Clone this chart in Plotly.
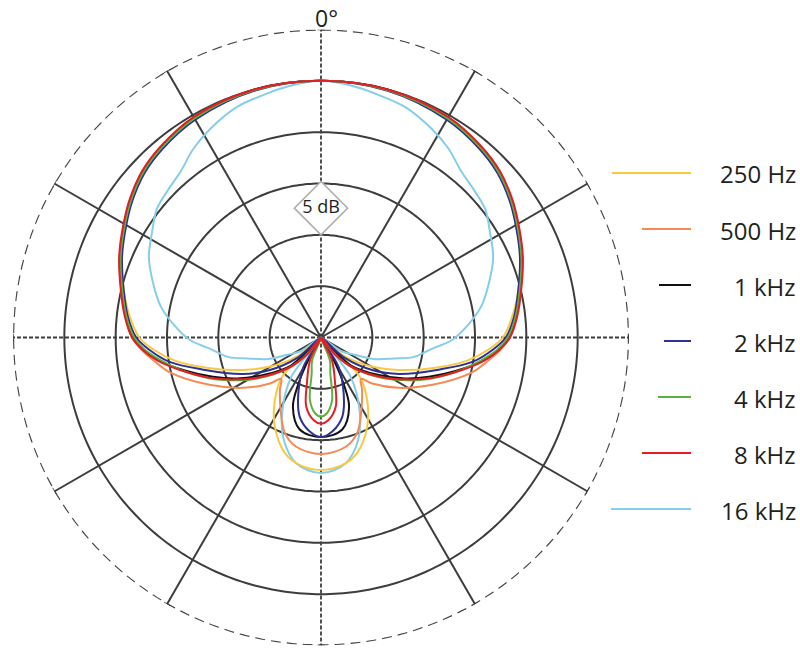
import plotly.graph_objects as go

# ---------------- data (angle in degrees from front, level in dB) ----------------
freq_labels = ["250 Hz", "500 Hz", "1 kHz", "2 kHz", "4 kHz", "8 kHz", "16 kHz"]

theta_250 = [0, 15, 30, 40, 47, 54, 60, 68, 77, 84, 90, 94, 99, 105.5, 112.7, 119.8, 128.3, 131.5, 135.4, 143.7, 152.7, 162.7, 170.6, 180]
db_250 = [0, -0.1, -0.4, -0.9, -1.4, -2.2, -3.0, -4.0, -5.3, -6.3, -7.3, -8.6, -10.6, -13.8, -16.8, -19.3, -22.0, -25, -19.6, -17.4, -15.2, -13.2, -12.4, -12.1]

theta_500 = [0, 15, 30, 40, 47, 54, 60, 68, 77, 84, 90, 94, 98, 103, 113, 123, 132, 136, 142, 151, 159, 167, 180]
db_500 = [0, 0, -0.25, -0.75, -1.25, -2.05, -2.85, -3.85, -5.05, -5.85, -6.6, -7.5, -8.6, -9.9, -13.2, -16.0, -18.3, -19.4, -18.5, -16.9, -15.1, -14.1, -13.65]

theta_1k = [0, 15, 30, 40, 47, 54, 60, 68, 77, 84, 90, 94, 98, 104, 110, 116, 123, 133, 145, 150, 154, 158, 167, 180]
db_1k = [0, 0, -0.3, -0.8, -1.3, -2.1, -2.9, -3.9, -5.1, -5.9, -6.7, -7.7, -9.0, -11.5, -13.8, -15.9, -18.3, -21.0, -25, -22.9, -20.0, -17.7, -15.8, -15.3]

theta_2k = [0, 15, 30, 40, 47, 54, 60, 68, 77, 84, 90, 94, 99, 105, 115, 122.5, 130.6, 140, 149, 158, 165, 173, 180]
db_2k = [0, -0.1, -0.5, -1.0, -1.5, -2.3, -3.1, -4.1, -5.3, -6.1, -7.0, -8.2, -10.0, -13.0, -16.6, -19.1, -21.9, -25, -21.7, -19.1, -17.0, -15.8, -15.3]

theta_4k = [0, 15, 30, 40, 47, 54, 60, 68, 77, 84, 90, 94, 98, 103, 110, 116, 123, 133, 141, 148, 158.8, 165.4, 170, 175.5, 180]
db_4k = [0, -0.05, -0.35, -0.85, -1.35, -2.15, -2.95, -3.95, -5.15, -5.95, -6.8, -7.8, -9.2, -11.0, -13.4, -15.5, -17.7, -20.6, -23.0, -25, -22.6, -21.4, -18.8, -17.6, -17.3]

theta_8k = [0, 15, 30, 40, 47, 54, 60, 68, 77, 84, 90, 94, 98, 103, 110, 116, 123, 133.6, 140, 146, 154, 163, 168, 175, 180]
db_8k = [0, 0, -0.2, -0.7, -1.2, -2.0, -2.8, -3.8, -5.0, -5.8, -6.6, -7.6, -8.9, -10.9, -13.5, -15.7, -17.9, -20.8, -22.8, -25, -22.6, -20.3, -18.1, -16.9, -16.6]

theta_16k = [0, 7, 13, 20, 28, 34, 40, 46, 52, 58, 65, 72, 79, 85, 91, 96, 102, 106, 112, 117, 124, 131, 143, 152, 160, 169, 180]
db_16k = [0, -0.3, -0.7, -1.1, -2.0, -2.8, -3.8, -4.3, -4.7, -5.6, -6.5, -7.8, -9.1, -10.6, -12.2, -14.2, -15.8, -17.6, -19.4, -21.3, -22.6, -25, -20.2, -17.0, -14.4, -12.5, -11.8]

ring_levels = [-20, -15, -10, -5, 0]
outer_level = 5
center_level = -25
spoke_angles = [0, 30, 60, 90, 120, 150, 180, 210, 240, 270, 300, 330]
scale_label = "5 dB"
scale_label_level = -12.4

# ---------------- styling ----------------
colors = {
    "250 Hz": "#F8C940",
    "500 Hz": "#F58A55",
    "1 kHz": "#111111",
    "2 kHz": "#2E3192",
    "4 kHz": "#5DB13F",
    "8 kHz": "#E41E26",
    "16 kHz": "#85CDE9",
}
grid_color = "#3d3d3d"
font_family = "Open Sans, Noto Sans, sans-serif"
text_color = "#231f20"

W, H = 800, 659
cx, cy, R = 321, 337.5, 308


def mirror(th, db):
    full_th = list(th) + [360 - t for t in reversed(th[:-1])]
    full_db = list(db) + list(reversed(db[:-1]))
    return full_th, full_db


fig = go.Figure()

# grid rings
circle_theta = list(range(0, 361, 1))
for lv in ring_levels:
    fig.add_trace(go.Scatterpolar(r=[lv] * len(circle_theta), theta=circle_theta, mode="lines",
                                  line=dict(color=grid_color, width=2), hoverinfo="skip", showlegend=False))
fig.add_trace(go.Scatterpolar(r=[outer_level] * len(circle_theta), theta=circle_theta, mode="lines",
                              line=dict(color="#444444", width=2.4, dash="10px,6px"), hoverinfo="skip",
                              showlegend=False))

# spokes
for a in spoke_angles:
    dashed = a % 90 == 0
    fig.add_trace(go.Scatterpolar(r=[center_level, outer_level], theta=[a, a], mode="lines",
                                  line=dict(color=grid_color, width=1.8 if dashed else 2,
                                            dash="4px,2px" if dashed else "solid"),
                                  hoverinfo="skip", showlegend=False))
    # small end cap
    fig.add_trace(go.Scatterpolar(r=[outer_level, outer_level], theta=[a - 0.7, a + 0.7], mode="lines",
                                  line=dict(color=grid_color, width=1.5), hoverinfo="skip", showlegend=False))

# curves
series = [
    ("16 kHz", theta_16k, db_16k),
    ("250 Hz", theta_250, db_250),
    ("500 Hz", theta_500, db_500),
    ("1 kHz", theta_1k, db_1k),
    ("2 kHz", theta_2k, db_2k),
    ("4 kHz", theta_4k, db_4k),
    ("8 kHz", theta_8k, db_8k),
]
for name, th, db in series:
    ft, fd = mirror(th, db)
    fig.add_trace(go.Scatterpolar(r=fd, theta=ft, mode="lines", name=name,
                                  line=dict(color=colors[name], width=2, shape="spline", smoothing=1.0),
                                  showlegend=False))

# scale label (diamond)
fig.add_trace(go.Scatterpolar(r=[scale_label_level], theta=[0], mode="markers+text", text=[scale_label],
                              textposition="middle center",
                              textfont=dict(family=font_family, size=18, color=text_color),
                              marker=dict(symbol="diamond", size=41, color="white",
                                          line=dict(color="#b0b0b0", width=1.6)),
                              hoverinfo="skip", showlegend=False))

# legend (manual)
legend_y = [173, 229, 285, 341, 397, 453, 509]
legend_x0 = [612, 642, 659, 664, 658, 642, 611]
legend_x1 = 691
shapes = []
annotations = []
for lab, yy, x0 in zip(freq_labels, legend_y, legend_x0):
    shapes.append(dict(type="line", xref="paper", yref="paper", x0=x0 / W, x1=legend_x1 / W,
                       y0=1 - yy / H, y1=1 - yy / H, line=dict(color=colors[lab], width=2)))
    annotations.append(dict(text=lab, xref="paper", yref="paper", x=798 / W, y=1 - (yy + 1) / H,
                            xanchor="right", yanchor="middle", showarrow=False,
                            font=dict(family=font_family, size=24, color=text_color)))

annotations.append(dict(text="0°", xref="paper", yref="paper", x=(cx + 5) / W, y=1.0,
                        xanchor="center", yanchor="top", showarrow=False,
                        font=dict(family=font_family, size=23, color=text_color)))

fig.update_layout(
    width=W, height=H,
    margin=dict(l=0, r=0, t=0, b=0),
    paper_bgcolor="white",
    plot_bgcolor="white",
    showlegend=False,
    polar=dict(
        domain=dict(x=[(cx - R) / W, (cx + R) / W], y=[(H - (cy + R)) / H, (H - (cy - R)) / H]),
        bgcolor="white",
        radialaxis=dict(range=[center_level, outer_level], visible=False),
        angularaxis=dict(rotation=90, direction="clockwise", visible=False),
    ),
    shapes=shapes,
    annotations=annotations,
)

fig.write_html("out.html", config={"displayModeBar": False},
               post_script="document.body.style.margin='0px';")
